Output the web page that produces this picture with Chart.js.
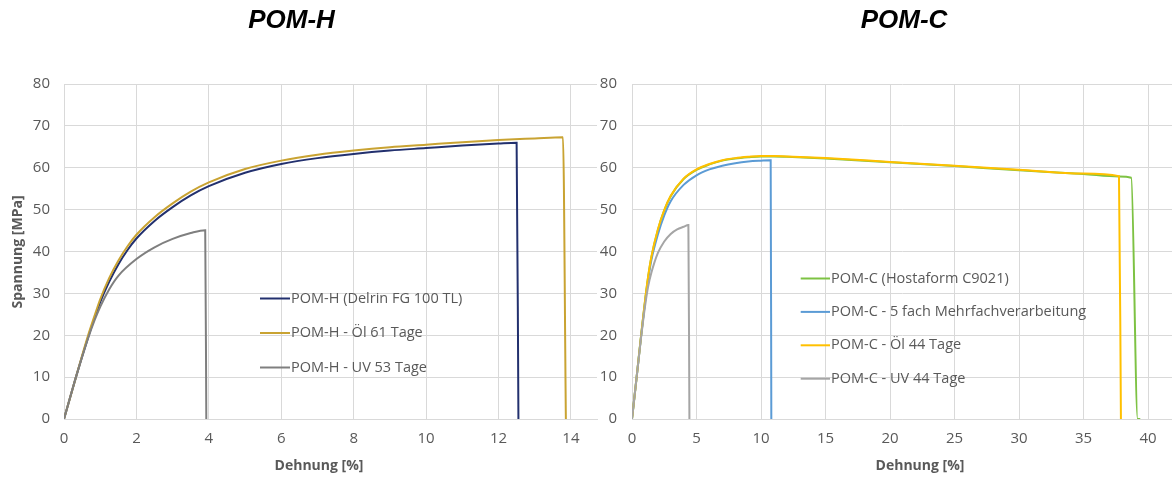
<!DOCTYPE html>
<html>
<head>
<meta charset="utf-8">
<title>POM-H / POM-C Zugversuch</title>
<script src="https://cdn.jsdelivr.net/npm/chart.js@4.4.0/dist/chart.umd.min.js"></script>
<style>
  html, body { margin: 0; padding: 0; background: #ffffff; overflow: hidden; }
  #wrap { position: relative; width: 1172px; height: 477px; }
  .box { position: absolute; top: 0; height: 477px; }
  #boxH { left: 0; width: 598px; }
  #boxC { left: 598px; width: 574px; }
</style>
</head>
<body>
<div id="wrap">
  <div class="box" id="boxH"><canvas id="chartH" width="598" height="477"></canvas></div>
  <div class="box" id="boxC"><canvas id="chartC" width="574" height="477"></canvas></div>
</div>
<script>
// ---- Spannungs-Dehnungs-Kurven (Dehnung in %, Spannung in MPa) ----

// POM-H (Delrin FG 100 TL)
const hRefX = [0, 0.33, 0.67, 0.85, 1.0, 1.25, 1.5, 1.75, 2, 2.5, 3, 3.5, 4, 5, 6, 7, 8, 9, 10, 11, 12, 12.5, 12.55];
const hRefY = [0, 10, 19.6, 24.3, 27.9, 32.8, 36.9, 40.3, 43.1, 47.3, 50.6, 53.4, 55.6, 58.8, 60.9, 62.3, 63.3, 64.1, 64.7, 65.3, 65.8, 66.0, 0];
// POM-H - Öl 61 Tage
const hOilX = [0, 0.33, 0.66, 0.85, 1.0, 1.25, 1.5, 1.75, 2, 2.5, 3, 3.5, 4, 5, 6, 7, 8, 9, 10, 11, 12, 13, 13.78, 13.86];
const hOilY = [0, 10, 19.8, 24.8, 28.6, 33.7, 37.8, 41.2, 44.0, 48.2, 51.5, 54.3, 56.5, 59.7, 61.7, 63.1, 64.1, 64.9, 65.5, 66.1, 66.6, 67.0, 67.3, 0];
// POM-H - UV 53 Tage
const hUvX = [0, 0.33, 0.67, 0.85, 1.0, 1.25, 1.5, 2, 2.5, 3, 3.5, 3.9, 3.93];
const hUvY = [0, 10, 19.4, 23.7, 26.8, 31.0, 34.2, 38.2, 41.0, 43.0, 44.4, 45.1, 0];

// POM-C (Hostaform C9021)
const cRefX = [0, 0.36, 0.7, 0.88, 1.05, 1.25, 1.5, 2, 2.5, 3, 4, 5, 6, 7, 8, 9, 10, 11, 12, 15, 20, 25, 30, 35, 37.75, 38.7, 39.2, 39.4];
const cRefY = [0, 10, 19.8, 24.7, 29.2, 33.9, 38.6, 45.1, 49.8, 53.2, 57.3, 59.5, 60.8, 61.7, 62.2, 62.5, 62.7, 62.7, 62.6, 62.2, 61.3, 60.4, 59.4, 58.5, 57.9, 57.6, 0, 0];
// POM-C - 5 fach Mehrfachverarbeitung
const cMultiX = [0, 0.36, 0.7, 0.88, 1.05, 1.25, 1.5, 2, 2.5, 3, 4, 5, 6, 7, 8, 9, 10, 10.75, 10.8];
const cMultiY = [0, 10, 19.6, 24.4, 28.8, 33.3, 37.9, 44.0, 48.6, 52.0, 55.9, 58.2, 59.6, 60.5, 61.1, 61.5, 61.7, 61.8, 0];
// POM-C - Öl 44 Tage
const cOilX = [0, 0.36, 0.7, 0.88, 1.05, 1.25, 1.5, 2, 2.5, 3, 4, 5, 6, 7, 8, 9, 10, 11, 12, 15, 20, 25, 30, 35, 37.75, 37.9];
const cOilY = [0, 10, 19.8, 24.8, 29.3, 34.0, 38.7, 45.2, 49.9, 53.3, 57.4, 59.6, 60.9, 61.8, 62.3, 62.6, 62.8, 62.8, 62.7, 62.3, 61.4, 60.5, 59.5, 58.6, 58.0, 0];
// POM-C - UV 44 Tage
const cUvX = [0, 0.36, 0.7, 0.88, 1.05, 1.25, 1.5, 2, 2.5, 3, 3.5, 4, 4.37, 4.45];
const cUvY = [0, 10, 19.4, 23.9, 27.8, 31.6, 34.9, 39.6, 42.4, 44.2, 45.3, 45.9, 46.3, 0];

// Achsenbeschriftung
const yTicks = [0, 10, 20, 30, 40, 50, 60, 70, 80];
const xTicksH = [0, 2, 4, 6, 8, 10, 12, 14];
const xTicksC = [0, 5, 10, 15, 20, 25, 30, 35, 40];

const seriesLabelsH = ['POM-H (Delrin FG 100 TL)', 'POM-H - Öl 61 Tage', 'POM-H - UV 53 Tage'];
const seriesLabelsC = ['POM-C (Hostaform C9021)', 'POM-C - 5 fach Mehrfachverarbeitung', 'POM-C - Öl 44 Tage', 'POM-C - UV 44 Tage'];

const toPoints = (xs, ys) => xs.map((x, i) => ({ x: x, y: ys[i] }));

const GRID = '#D9D9D9';
const TEXT = '#595959';
const SANS = '"Open Sans", "Liberation Sans", sans-serif';

// Legend drawn inside the plot area: short line sample followed by the label
const inlineLegend = {
  id: 'inlineLegend',
  afterDatasetsDraw(chart, args, opts) {
    const ctx = chart.ctx;
    ctx.save();
    ctx.font = opts.font;
    ctx.textBaseline = 'middle';
    ctx.textAlign = 'left';
    chart.data.datasets.forEach((ds, i) => {
      const y = opts.y0 + i * opts.dy;
      ctx.strokeStyle = ds.borderColor;
      ctx.lineWidth = 2;
      ctx.beginPath();
      ctx.moveTo(opts.x0, y);
      ctx.lineTo(opts.x1, y);
      ctx.stroke();
      ctx.fillStyle = opts.color;
      ctx.fillText(ds.label, opts.x1 + 1, y);
    });
    ctx.restore();
  }
};

// Chart heading and axis captions
const captions = {
  id: 'captions',
  afterDraw(chart, args, opts) {
    const ctx = chart.ctx;
    ctx.save();
    ctx.textAlign = 'center';
    ctx.textBaseline = 'middle';
    (opts.items || []).forEach(it => {
      ctx.save();
      ctx.font = it.font;
      ctx.fillStyle = it.color;
      ctx.translate(it.x, it.y);
      if (it.rotate) ctx.rotate(it.rotate);
      ctx.fillText(it.text, 0, 0);
      ctx.restore();
    });
    ctx.restore();
  }
};

function lineSet(label, xs, ys, color, order) {
  return {
    label: label,
    data: toPoints(xs, ys),
    borderColor: color,
    backgroundColor: color,
    borderWidth: 2,
    pointRadius: 0,
    showLine: true,
    fill: false,
    cubicInterpolationMode: 'monotone',
    order: order
  };
}

function makeOptions(cfg) {
  return {
    responsive: false,
    animation: false,
    devicePixelRatio: 1,
    layout: { padding: { top: 84, left: 0, right: cfg.padRight, bottom: 0 } },
    plugins: {
      legend: { display: false },
      tooltip: { enabled: false },
      title: { display: false },
      inlineLegend: cfg.legend,
      captions: { items: cfg.captions }
    },
    scales: {
      x: {
        type: 'linear',
        min: 0,
        max: cfg.xMax,
        afterBuildTicks: s => { s.ticks = cfg.xTicks.map(v => ({ value: v })); },
        afterFit: s => { s.height = 58; },
        ticks: { color: TEXT, font: { family: SANS, size: 15 }, padding: 11, maxRotation: 0 },
        grid: { color: GRID, lineWidth: 1, drawTicks: false },
        border: { color: GRID, width: 1 }
      },
      y: {
        type: 'linear',
        min: 0,
        max: 80,
        afterBuildTicks: s => { s.ticks = yTicks.map(v => ({ value: v })); },
        afterFit: s => { s.width = cfg.yWidth; },
        ticks: { color: TEXT, font: { family: SANS, size: 15 }, padding: cfg.yPad },
        grid: { color: GRID, lineWidth: 1, drawTicks: false },
        border: { color: GRID, width: 1 }
      }
    }
  };
}

Chart.register(inlineLegend, captions);

new Chart(document.getElementById('chartH'), {
  type: 'scatter',
  data: {
    datasets: [
      lineSet(seriesLabelsH[0], hRefX, hRefY, '#22306E', 3),
      lineSet(seriesLabelsH[1], hOilX, hOilY, '#C9A332', 2),
      lineSet(seriesLabelsH[2], hUvX, hUvY, '#7F7F7F', 1)
    ]
  },
  options: makeOptions({
    padRight: 1,
    xMax: 14.72,
    xTicks: xTicksH,
    yWidth: 64,
    yPad: 14,
    legend: { x0: 260, x1: 290, y0: 298.5, dy: 34.5, font: '14.5px ' + SANS, color: TEXT },
    captions: [
      { text: 'POM-H', x: 291.5, y: 21, font: 'italic bold 26px "Liberation Sans", Arial, sans-serif', color: '#000000' },
      { text: 'Dehnung [%]', x: 319, y: 466, font: 'bold 14px ' + SANS, color: TEXT },
      { text: 'Spannung [MPa]', x: 18, y: 252, rotate: -Math.PI / 2, font: 'bold 14px ' + SANS, color: TEXT }
    ]
  })
});

new Chart(document.getElementById('chartC'), {
  type: 'scatter',
  data: {
    datasets: [
      lineSet(seriesLabelsC[0], cRefX, cRefY, '#7DC243', 4),
      lineSet(seriesLabelsC[1], cMultiX, cMultiY, '#5B9BD5', 3),
      lineSet(seriesLabelsC[2], cOilX, cOilY, '#FFC000', 2),
      lineSet(seriesLabelsC[3], cUvX, cUvY, '#A5A5A5', 1)
    ]
  },
  options: makeOptions({
    padRight: 0,
    xMax: 41.86,
    xTicks: xTicksC,
    yWidth: 34,
    yPad: 15,
    legend: { x0: 202.7, x1: 232, y0: 278.5, dy: 33.4, font: '14.5px ' + SANS, color: TEXT },
    captions: [
      { text: 'POM-C', x: 306, y: 21, font: 'italic bold 26px "Liberation Sans", Arial, sans-serif', color: '#000000' },
      { text: 'Dehnung [%]', x: 322, y: 466, font: 'bold 14px ' + SANS, color: TEXT }
    ]
  })
});
</script>
</body>
</html>
